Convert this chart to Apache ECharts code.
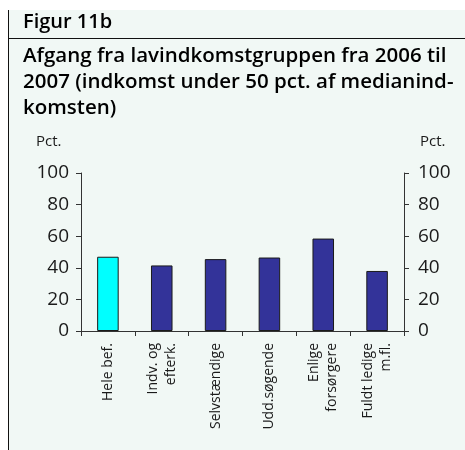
<!DOCTYPE html>
<html>
<head>
<meta charset="utf-8">
<style>
  html, body { margin: 0; padding: 0; background: #ffffff; }
  #chart { width: 465px; height: 450px; }
</style>
<script src="https://cdn.jsdelivr.net/npm/echarts@6/dist/echarts.min.js"></script>
</head>
<body>
<div id="chart"></div>
<script>
const categories = ['Hele bef.', 'Indv. og\nefterk.', 'Selvstændige', 'Udd.søgende', 'Enlige\nforsørgere', 'Fuldt ledige\nm.fl.'];
const values = [47, 41.5, 45.5, 46.5, 58.5, 38];
const barColors = ['#00ffff', '#333399', '#333399', '#333399', '#333399', '#333399'];
const yTicks = [0, 20, 40, 60, 80, 100];
const figLabel = 'Figur 11b';
const titleLines = ['Afgang fra lavindkomstgruppen fra 2006 til', '2007 (indkomst under 50 pct. af medianind-', 'komsten)'];
const unitLabel = 'Pct.';

const chart = echarts.init(document.getElementById('chart'), null, { renderer: 'canvas' });
const FONT = '"Open Sans", sans-serif';
const axisColor = '#333333';
const textColor = '#1a1a1a';

function yAxis(pos, margin) {
  return {
    type: 'value', min: 0, max: 100, interval: 20, position: pos,
    axisLine: { show: true, lineStyle: { color: axisColor, width: 1 } },
    axisTick: { show: true, length: 5, lineStyle: { color: axisColor } },
    splitLine: { show: false },
    axisLabel: { color: textColor, fontSize: 19, fontFamily: FONT, margin: margin,
      formatter: v => yTicks.includes(v) ? String(v) : '' }
  };
}

chart.setOption({
  backgroundColor: 'transparent',
  animation: false,
  graphic: [
    { type: 'rect', shape: { x: 8, y: 10, width: 457, height: 440 }, style: { fill: '#f1f8f5' }, z: -10 },
    { type: 'line', shape: { x1: 8.5, y1: 10, x2: 8.5, y2: 450 }, style: { stroke: '#111', lineWidth: 1 } },
    { type: 'line', shape: { x1: 8, y1: 38.5, x2: 465, y2: 38.5 }, style: { stroke: '#111', lineWidth: 1 } },
    { type: 'text', left: 23, top: 12, style: { text: figLabel, font: '600 20px ' + FONT, fill: '#000' } },
    { type: 'text', left: 23, top: 43, style: { text: titleLines.join('\n'), font: '600 20.5px ' + FONT, fill: '#000', lineHeight: 26 } },
    { type: 'text', left: 36, top: 134, style: { text: unitLabel, font: '15px ' + FONT, fill: textColor } },
    { type: 'text', left: 420, top: 134, style: { text: unitLabel, font: '15px ' + FONT, fill: textColor } }
  ],
  grid: { left: 81, right: 61, top: 173, bottom: 119, containLabel: false },
  xAxis: {
    type: 'category', data: categories,
    axisLine: { show: true, lineStyle: { color: axisColor, width: 1 } },
    axisTick: { show: true, length: 5, alignWithLabel: false, lineStyle: { color: axisColor } },
    axisLabel: { rotate: 90, interval: 0, color: textColor, fontSize: 14, fontFamily: FONT, margin: 12, lineHeight: 18 }
  },
  yAxis: [ yAxis('left', 12), yAxis('right', 14) ],
  series: [{
    type: 'bar', yAxisIndex: 0,
    data: values.map((v, i) => ({ value: v, itemStyle: { color: barColors[i] } })),
    barWidth: '40%',
    itemStyle: { borderColor: '#1a1a1a', borderWidth: 1 }
  }]
});
</script>
</body>
</html>
